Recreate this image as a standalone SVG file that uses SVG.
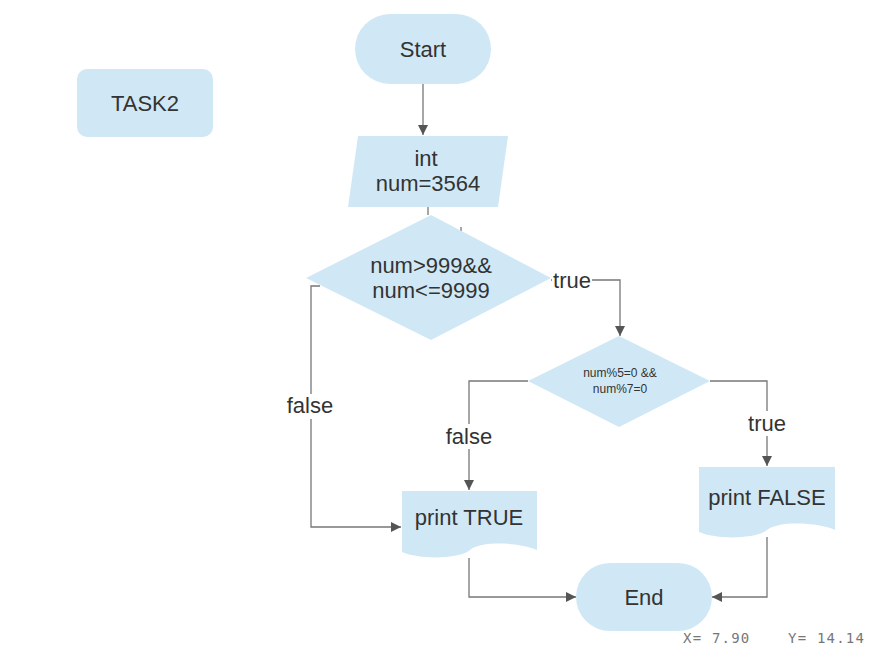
<svg xmlns="http://www.w3.org/2000/svg" width="896" height="658" viewBox="0 0 896 658">
<style>
.shape{fill:#D0E8F5;stroke:none}
.t{font-family:"Liberation Sans",Arial,sans-serif;font-size:22px;fill:#333;text-anchor:middle}
.s{font-size:12px}
.c{fill:none;stroke:#777;stroke-width:1.3}
.lb{fill:#fff}
.coord{font-family:"DejaVu Sans Mono","Liberation Mono",monospace;font-size:14px;letter-spacing:1.2px;fill:#777}
</style>
<defs>
<marker id="ah" viewBox="0 0 10 10" refX="10" refY="5" markerWidth="10" markerHeight="10" markerUnits="userSpaceOnUse" orient="auto">
<path d="M0,0 L10,5 L0,10 Z" fill="#555"/>
</marker>
</defs>
<rect width="896" height="658" fill="#fff"/>

<g id="connectors">
<path class="c" d="M423,84 V135" marker-end="url(#ah)"/>
<path class="c" d="M428,207 V215"/>
<path class="c" d="M461,227 V231"/>
<path class="c" d="M551,280 H620 V336" marker-end="url(#ah)"/>
<path class="c" d="M320,286 H311 V527 H401" marker-end="url(#ah)"/>
<path class="c" d="M528,381 H469 V490" marker-end="url(#ah)"/>
<path class="c" d="M710,381 H767 V466" marker-end="url(#ah)"/>
<path class="c" d="M469,558 V597 H576" marker-end="url(#ah)"/>
<path class="c" d="M767,537 V597 H712" marker-end="url(#ah)"/>
<rect class="lb" x="552" y="268" width="40" height="24"/>
<text class="t" x="572" y="288">true</text>
<rect class="lb" x="286" y="394" width="48" height="25"/>
<text class="t" x="310" y="413">false</text>
<rect class="lb" x="445" y="424" width="48" height="25"/>
<text class="t" x="469" y="444">false</text>
<rect class="lb" x="746" y="411" width="42" height="25"/>
<text class="t" x="767" y="431">true</text>
</g>

<g id="task2">
<rect class="shape" x="77" y="69" width="136" height="68" rx="10"/>
<text class="t" x="145" y="111">TASK2</text>
</g>

<g id="start">
<rect class="shape" x="355" y="14" width="136" height="70" rx="35"/>
<text class="t" x="423" y="57">Start</text>
</g>

<g id="input">
<polygon class="shape" points="358,136 508,136 498,207 348,207"/>
<text class="t" x="426" y="166">int</text>
<text class="t" x="428" y="191">num=3564</text>
</g>

<g id="decision1">
<polygon class="shape" points="431,215 551,278 431,340 306,278"/>
<text class="t" x="431" y="273">num&gt;999&amp;&amp;</text>
<text class="t" x="431" y="298">num&lt;=9999</text>
</g>

<g id="decision2">
<polygon class="shape" points="619,336 710,381 619,427 528,381"/>
<text class="t s" x="620" y="377">num%5=0 &amp;&amp;</text>
<text class="t s" x="620" y="393">num%7=0</text>
</g>

<g id="printTrue">
<path class="shape" d="M402,491 H537 V550 C522,543 482,540 470,550 C460,559 420,560 402,552 Z"/>
<text class="t" x="469" y="525">print TRUE</text>
</g>

<g id="printFalse">
<path class="shape" d="M699,467 H835 V530 C820,523 780,520 767,530 C757,539 717,540 699,532 Z"/>
<text class="t" x="767" y="505">print FALSE</text>
</g>

<g id="end">
<rect class="shape" x="576" y="563" width="136" height="68" rx="34"/>
<text class="t" x="644" y="605">End</text>
</g>

<text class="coord" x="683" y="643">X= 7.90</text>
<text class="coord" x="788" y="643">Y= 14.14</text>
</svg>
